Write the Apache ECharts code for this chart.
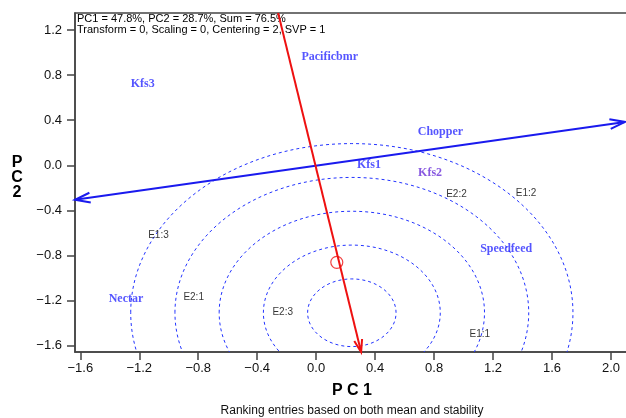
<!DOCTYPE html>
<html>
<head>
<meta charset="utf-8">
<script src="https://cdn.jsdelivr.net/npm/echarts@6/dist/echarts.min.js"></script>
<style>
  html, body { margin: 0; padding: 0; background: #fff; }
  #chart { width: 626px; height: 418px; }
</style>
</head>
<body>
<div id="chart"></div>
<script>
  // tick labels
  const xTicks = [-1.6, -1.2, -0.8, -0.4, 0, 0.4, 0.8, 1.2, 1.6, 2.0]
  const yTicks = [-1.6, -1.2, -0.8, -0.4, 0, 0.4, 0.8, 1.2]

  // entries (genotypes)
  const genoNames = ['Pacificbmr', 'Kfs3', 'Chopper', 'Kfs1', 'Kfs2', 'Speedfeed', 'Nectar']
  const genoX = [0.092, -1.177, 0.843, 0.358, 0.773, 1.289, -1.29]
  const genoY = [0.96, 0.726, 0.296, 0.0, -0.068, -0.741, -1.185]

  // testers (environments)
  const envNames = ['E1:1', 'E1:2', 'E1:3', 'E2:1', 'E2:2', 'E2:3']
  const envX = [1.11, 1.424, -1.07, -0.831, 0.952, -0.227]
  const envY = [-1.496, -0.246, -0.622, -1.17, -0.26, -1.304]

  // average axis lines (start x, start y, end x, end y)
  const abscissa = [-1.636, -0.305, 2.096, 0.385]
  const ordinate = [-0.258, 1.351, 0.305, -1.655]
  const avePoint = [0.14, -0.86]

  // concentric circles round the ideal entry
  const idealCenter = [0.242, -1.307]
  const circleRadii = [0.3, 0.6, 0.9, 1.2, 1.5]

  const fmt = v => (v < 0 ? '\u2212' : '') + Math.abs(v).toFixed(1)

  // line with open arrow head(s)
  function arrowItem(color, width, headLen, headAng, both) {
    return function(params, api) {
      const p1 = api.coord([api.value(0), api.value(1)])
      const p2 = api.coord([api.value(2), api.value(3)])
      const head = (tip, from) => {
        const a = Math.atan2(from[1] - tip[1], from[0] - tip[0])
        const r = headAng * Math.PI / 180
        return {
          type: 'polyline',
          shape: { points: [
            [tip[0] + headLen * Math.cos(a + r), tip[1] + headLen * Math.sin(a + r)],
            tip,
            [tip[0] + headLen * Math.cos(a - r), tip[1] + headLen * Math.sin(a - r)]
          ] },
          style: { stroke: color, lineWidth: width, fill: null }
        }
      }
      const children = [
        { type: 'line', shape: { x1: p1[0], y1: p1[1], x2: p2[0], y2: p2[1] }, style: { stroke: color, lineWidth: width } },
        head(p2, p1)
      ]
      if (both) children.push(head(p1, p2))
      return { type: 'group', children: children }
    }
  }

  const chart = echarts.init(document.getElementById('chart'))
  chart.setOption({
    animation: false,
    // plot area runs past the right edge of the picture
    grid: {
      left: 75, width: 560, top: 13, bottom: 66, outerBoundsMode: 'none',
      show: true, borderColor: '#444', borderWidth: 1.5
    },
    xAxis: {
      type: 'value', min: -1.636, max: 2.163,
      splitLine: { show: false },
      axisLine: { show: true, onZero: false, lineStyle: { color: '#444', width: 1.5 } },
      axisTick: { show: true, length: 8, customValues: xTicks, lineStyle: { color: '#444', width: 1.5 } },
      axisLabel: { customValues: xTicks, formatter: fmt, margin: 10, fontSize: 13, color: '#111', fontFamily: 'Liberation Sans' }
    },
    yAxis: {
      type: 'value', min: -1.655, max: 1.351,
      splitLine: { show: false },
      axisLine: { show: true, onZero: false, lineStyle: { color: '#444', width: 1.5 } },
      axisTick: { show: true, length: 8, customValues: yTicks, lineStyle: { color: '#444', width: 1.5 } },
      axisLabel: { customValues: yTicks, formatter: fmt, margin: 13, fontSize: 13, color: '#111', fontFamily: 'Liberation Sans' }
    },
    graphic: [
      {
        type: 'text', left: 77, top: 13, z: 1,
        style: {
          text: 'PC1 = 47.8%, PC2 = 28.7%, Sum = 76.5%\nTransform = 0, Scaling = 0, Centering = 2, SVP = 1',
          font: '11px "Liberation Sans"', fill: '#000', lineHeight: 11
        }
      },
      {
        type: 'text', x: 17, y: 178,
        style: { text: 'P\nC\n2', font: 'bold 16px "Liberation Sans"', fill: '#000', align: 'center', verticalAlign: 'middle', lineHeight: 15 }
      },
      {
        type: 'text', x: 352, y: 391,
        style: { text: 'P C 1', font: 'bold 16px "Liberation Sans"', fill: '#000', align: 'center', verticalAlign: 'middle' }
      },
      {
        type: 'text', x: 352, y: 411,
        style: { text: 'Ranking entries based on both mean and stability', font: '12px "Liberation Sans"', fill: '#111', align: 'center', verticalAlign: 'middle' }
      }
    ],
    series: [
      {
        type: 'custom',
        clip: true,
        data: circleRadii.map(r => [idealCenter[0], idealCenter[1], r]),
        encode: { x: 0, y: 1 },
        renderItem: function(params, api) {
          const c = api.coord([api.value(0), api.value(1)])
          const r = api.value(2)
          const rx = api.size([r, 0])[0]
          const ry = api.size([0, r])[1]
          return {
            type: 'ellipse',
            shape: { cx: c[0], cy: c[1], rx: rx, ry: ry },
            style: { fill: null, stroke: '#2233ff', lineWidth: 1, lineDash: [3, 3] }
          }
        }
      },
      {
        type: 'custom',
        data: [abscissa],
        encode: { x: [0, 2], y: [1, 3] },
        renderItem: arrowItem('#1a1aee', 2, 16, 18, true)
      },
      {
        type: 'custom',
        data: [ordinate],
        encode: { x: [0, 2], y: [1, 3] },
        renderItem: arrowItem('#ee1111', 2, 13, 18, false)
      },
      {
        type: 'scatter',
        data: [avePoint],
        symbol: 'circle',
        symbolSize: 12,
        itemStyle: { color: 'rgba(0,0,0,0)', borderColor: '#ee1111', borderWidth: 1.2 }
      },
      {
        type: 'scatter',
        symbolSize: 1,
        itemStyle: { color: 'rgba(0,0,0,0)' },
        data: genoNames.map((n, i) => ({
          name: n, value: [genoX[i], genoY[i]],
          label: n === 'Kfs2' ? { color: '#6a2fd8' } : undefined
        })),
        label: {
          show: true, position: 'inside', formatter: '{b}',
          fontFamily: 'Liberation Serif', fontWeight: 'bold', fontSize: 12, color: '#2a2aff'
        }
      },
      {
        type: 'scatter',
        symbolSize: 1,
        itemStyle: { color: 'rgba(0,0,0,0)' },
        data: envNames.map((n, i) => ({ name: n, value: [envX[i], envY[i]] })),
        label: {
          show: true, position: 'inside', formatter: '{b}',
          fontFamily: 'Liberation Sans', fontSize: 10, color: '#000'
        }
      }
    ]
  })
</script>
</body>
</html>
